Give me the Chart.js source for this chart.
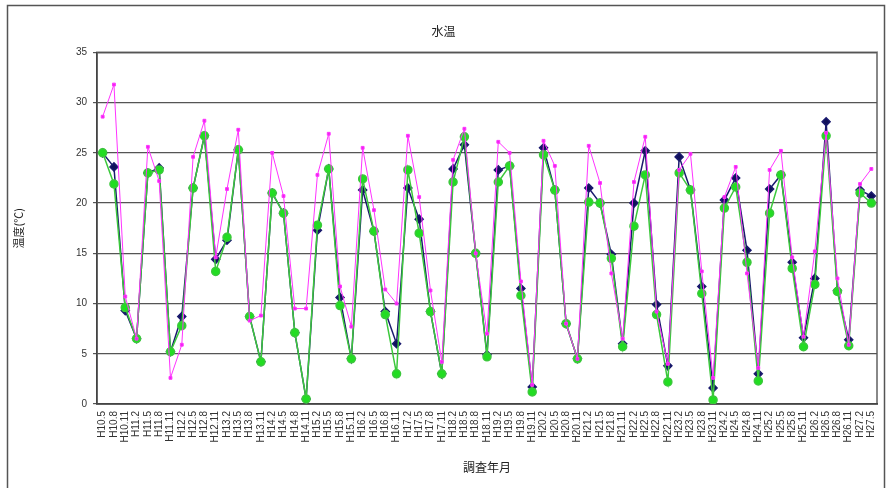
<!DOCTYPE html>
<html>
<head>
<meta charset="utf-8">
<script src="https://cdn.jsdelivr.net/npm/chart.js@4"></script>
<style>
  body { margin: 0; background: #fff; }
  #wrap { width: 890px; height: 488px; }
</style>
</head>
<body>
<div id="wrap"><canvas id="graphique" width="890" height="488"></canvas></div>
<script>
// survey dates (quarterly)
var labels = ['H10.5','H10.8','H10.11','H11.2','H11.5','H11.8','H11.11','H12.2',
  'H12.5','H12.8','H12.11','H13.2','H13.5','H13.8','H13.11','H14.2',
  'H14.5','H14.8','H14.11','H15.2','H15.5','H15.8','H15.11','H16.2',
  'H16.5','H16.8','H16.11','H17.2','H17.5','H17.8','H17.11','H18.2',
  'H18.5','H18.8','H18.11','H19.2','H19.5','H19.8','H19.11','H20.2',
  'H20.5','H20.8','H20.11','H21.2','H21.5','H21.8','H21.11','H22.2',
  'H22.5','H22.8','H22.11','H23.2','H23.5','H23.8','H23.11','H24.2',
  'H24.5','H24.8','H24.11','H25.2','H25.5','H25.8','H25.11','H26.2',
  'H26.5','H26.8','H26.11','H27.2','H27.5'];

var navyValues = [25.0,23.6,9.3,6.5,23.0,23.5,5.2,8.7,21.5,26.7,
  14.4,16.3,25.3,8.7,4.2,21.0,19.0,7.1,0.5,17.3,
  23.4,10.6,4.5,21.3,17.2,9.2,6.0,21.5,18.4,9.2,
  3.0,23.4,25.8,15.0,4.9,23.3,23.7,11.5,1.7,25.5,
  21.3,8.0,4.5,21.5,20.0,14.9,6.0,20.0,25.2,9.9,
  3.8,24.6,21.3,11.7,1.6,20.3,22.5,15.3,3.0,21.4,
  22.8,14.1,6.6,12.5,28.1,11.3,6.4,21.3,20.7];

var pinkValues = [28.6,31.8,10.7,6.5,25.6,22.2,2.6,5.9,24.6,28.2,
  14.6,21.4,27.3,8.3,8.8,25.0,20.7,9.5,9.5,22.8,
  26.9,11.7,7.7,25.5,19.3,11.4,10.0,26.7,20.6,11.3,
  4.2,24.3,27.4,15.0,7.0,26.1,25.0,12.2,1.9,26.2,
  23.7,8.0,4.5,25.7,22.0,13.0,6.5,22.1,26.6,9.2,
  4.0,23.3,24.9,13.2,2.6,20.6,23.6,13.0,3.6,23.3,
  25.2,14.6,6.7,15.2,27.0,12.5,5.9,21.9,23.4];

var greenValues = [25.0,21.9,9.6,6.5,23.0,23.3,5.2,7.8,21.5,26.7,
  13.2,16.6,25.3,8.7,4.2,21.0,19.0,7.1,0.5,17.8,
  23.4,9.8,4.5,22.4,17.2,8.9,3.0,23.3,17.0,9.2,
  3.0,22.1,26.6,15.0,4.7,22.1,23.7,10.8,1.2,24.8,
  21.3,8.0,4.5,20.1,20.0,14.5,5.7,17.7,22.8,8.9,
  2.2,23.0,21.3,11.0,0.4,19.5,21.6,14.1,2.3,19.0,
  22.8,13.5,5.7,11.9,26.7,11.2,5.8,21.0,20.0];

var yTicks = [0, 5, 10, 15, 20, 25, 30, 35];

var jpFont = '"Noto Sans CJK JP", sans-serif';

// outer frame like the spreadsheet chart area
var framePlugin = {
  id: 'frame',
  beforeDraw: function(chart) {
    var c = chart.ctx;
    c.save();
    c.fillStyle = '#fff';
    c.fillRect(0, 0, chart.width, chart.height);
    c.strokeStyle = '#555';
    c.lineWidth = 1.5;
    c.strokeRect(7.5, 5.5, 877, 490);
    // plot area border
    var a = chart.chartArea;
    c.strokeStyle = '#888';
    c.lineWidth = 2;
    c.strokeRect(a.left, a.top, a.right - a.left, a.bottom - a.top);
    c.restore();
  }
};

var ctx = document.getElementById('graphique');
var myChart = new Chart(ctx, {
  type: 'line',
  data: {
    labels: labels,
    datasets: [{
      label: '地点1',
      data: navyValues,
      borderColor: '#1a1a6e',
      backgroundColor: '#10105a',
      borderWidth: 1.5,
      pointStyle: 'rectRot',
      pointRadius: 4,
      order: 3
    }, {
      label: '地点2',
      data: greenValues,
      borderColor: '#3cc83c',
      backgroundColor: '#22dd22',
      borderWidth: 1.5,
      pointStyle: 'circle',
      pointRadius: 4,
      order: 2
    }, {
      label: '地点3',
      data: pinkValues,
      borderColor: '#ff33ff',
      backgroundColor: '#ee22ee',
      borderWidth: 1,
      pointStyle: 'rect',
      pointRadius: 2,
      order: 1
    }]
  },
  options: {
    responsive: false,
    animation: false,
    layout: { padding: { left: 10, right: 13, top: 0, bottom: 0 } },
    plugins: {
      legend: { display: false },
      tooltip: { enabled: false },
      title: {
        display: true,
        text: '水温',
        color: '#222',
        font: { family: jpFont, size: 12, weight: 'normal' },
        padding: { top: 24, bottom: 14 }
      }
    },
    scales: {
      x: {
        offset: true,
        grid: { display: false, drawTicks: true, tickLength: 4, offset: true, color: '#444' },
        border: { color: '#444', width: 1.5 },
        ticks: {
          autoSkip: false,
          minRotation: 90,
          maxRotation: 90,
          color: '#333',
          padding: 3,
          font: { family: 'Liberation Sans', size: 10 }
        },
        title: {
          display: true,
          text: '調査年月',
          color: '#222',
          font: { family: jpFont, size: 12 },
          padding: { top: 0, bottom: 13 }
        },
        afterFit: function(s) { s.height = 84; }
      },
      y: {
        min: 0,
        max: 35,
        afterBuildTicks: function(s) {
          s.ticks = yTicks.map(function(v) { return { value: v }; });
        },
        grid: { color: '#555', lineWidth: 1.2, tickLength: 4, drawOnChartArea: true },
        border: { color: '#444', width: 1.5 },
        ticks: {
          color: '#333',
          padding: 6,
          font: { family: 'Liberation Sans', size: 10 }
        },
        title: {
          display: true,
          text: '温度(℃)',
          color: '#222',
          font: { family: jpFont, size: 11 },
          padding: { top: 2, bottom: 0 }
        },
        afterFit: function(s) { s.width = 87; }
      }
    }
  },
  plugins: [framePlugin]
});
</script>
</body>
</html>
